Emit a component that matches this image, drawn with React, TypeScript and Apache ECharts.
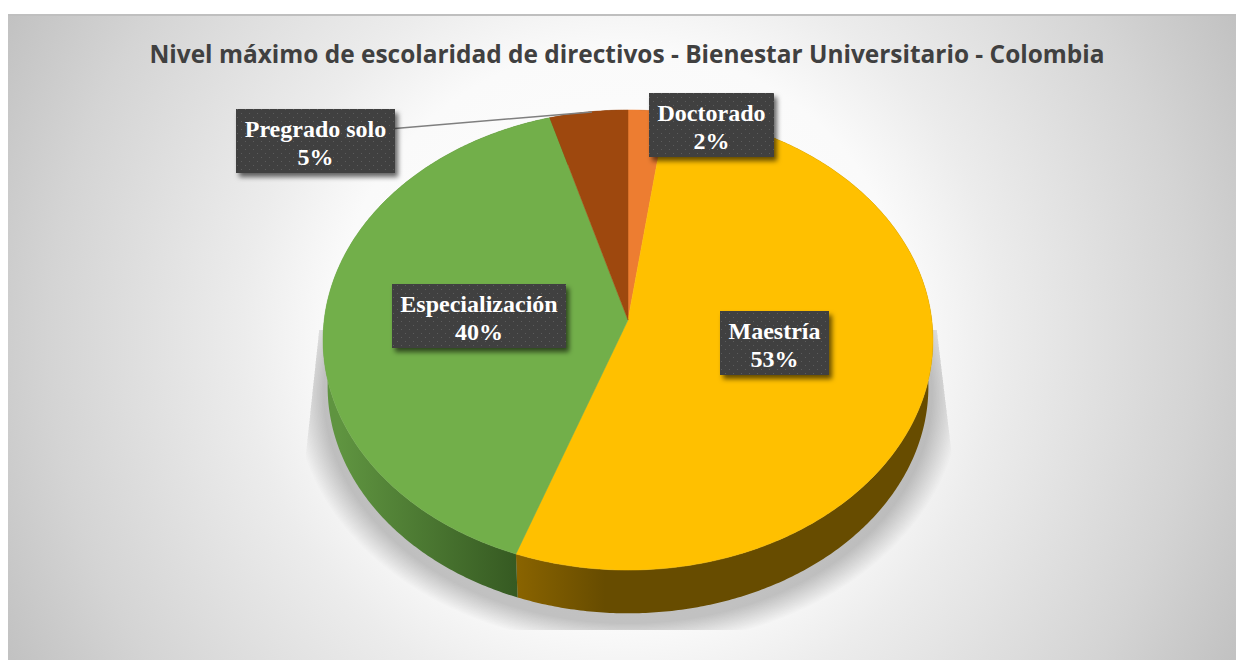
import React, { useEffect, useRef } from "react";
import * as echarts from "echarts";

const TITLE = "Nivel máximo de escolaridad de directivos - Bienestar Universitario - Colombia";
const categories = ["Doctorado", "Maestría", "Especialización", "Pregrado solo"];
const values = [2.2, 53.3, 40.0, 4.5];

const topColors = ["#ED7D31", "#FFC000", "#72AF4A", "#9E480E"];
const wallStops: [string, string][] = [
  ["#8E4A1A", "#8E4A1A"],
  ["#8A6400", "#674C00"],
  ["#5F9440", "#365A22"],
  ["#5E2B08", "#5E2B08"],
];
const wallSpan: [number, number][] = [[600, 700], [515, 605], [340, 516], [500, 600]];
const labelBoxes = [
  { x: 649, y: 93, w: 125, h: 64 },
  { x: 720, y: 311, w: 109, h: 64 },
  { x: 392, y: 284, w: 174, h: 64 },
  { x: 236, y: 109, w: 159, h: 64 },
];

const CX = 628, CY = 320, A = 303.8, B = 228.3, K = -0.087;
const DEPTH = 47, BOTTOM_SCALE = 0.985;
const total = values.reduce((s, v) => s + v, 0);

function rim(theta: number, scale = 1, dy = 0): number[] {
  const x = Math.sin(theta), y = -Math.cos(theta);
  const d = 1 + K * y;
  return [CX + (scale * A * x) / d, CY + dy + (scale * B * y) / d];
}
function arc(from: number, to: number, scale = 1, dy = 0): number[][] {
  const n = Math.max(2, Math.ceil((to - from) / 0.01));
  const pts: number[][] = [];
  for (let i = 0; i <= n; i++) pts.push(rim(from + ((to - from) * i) / n, scale, dy));
  return pts;
}
function sliceAngles(i: number): [number, number] {
  const before = values.slice(0, i).reduce((s, v) => s + v, 0);
  return [(before / total) * Math.PI * 2, ((before + values[i]) / total) * Math.PI * 2];
}
function dotTile() {
  const c = document.createElement("canvas");
  c.width = 8; c.height = 8;
  const g = c.getContext("2d")!;
  g.fillStyle = "#404040"; g.fillRect(0, 0, 8, 8);
  g.fillStyle = "#5c5c5c";
  g.fillRect(1, 1, 1, 1); g.fillRect(5, 5, 1, 1);
  return c;
}

export default function App() {
  const ref = useRef<HTMLDivElement>(null);
  useEffect(() => {
    document.body.style.margin = "0";
    const chart = echarts.init(ref.current!, undefined, { renderer: "svg" });
    const tile = dotTile();
    const data = categories.map((name, i) => ({ name, value: values[i] }));
    chart.setOption({
      animation: false,
      backgroundColor: "#ffffff",
      title: {
        text: TITLE,
        left: 622,
        top: 36,
        textAlign: "center",
        textStyle: { fontFamily: "Open Sans", fontSize: 24.45, fontWeight: 700, color: "#404040" },
      },
      graphic: [
        {
          type: "rect", z: -10,
          shape: { x: 8, y: 14, width: 1228, height: 646 },
          style: {
            fill: {
              type: "radial", x: 622, y: 337, r: 690, global: true,
              colorStops: [
                { offset: 0, color: "#ffffff" },
                { offset: 0.42, color: "#fafafa" },
                { offset: 0.55, color: "#ececec" },
                { offset: 0.83, color: "#d4d4d4" },
                { offset: 1, color: "#c2c2c2" },
              ],
            },
          },
        },
        { type: "rect", z: -9, shape: { x: 8, y: 14, width: 1228, height: 2 }, style: { fill: "#bfbfbf" } },
      ],
      series: [
        {
          type: "custom", coordinateSystem: "none", silent: true, z: 2,
          data: [{ name: "shadow", value: 1 }],
          renderItem: () => {
            const layers: any[] = [];
            for (let s = 1.09; s >= 1.0; s -= 0.005) {
              layers.push({
                type: "polygon",
                shape: { points: arc(0, Math.PI * 2, s, 54) },
                style: { fill: "rgba(0,0,0,0.0127)" },
              });
            }
            return {
              type: "group",
              children: layers,
              clipPath: {
                type: "polygon",
                shape: { points: [[319, 330], [937, 330], [955, 480], [955, 630], [303, 630], [303, 480]] },
              },
            };
          },
        },
        {
          type: "custom", coordinateSystem: "none", silent: true, z: 3, data,
          renderItem: (p: any) => {
            const i = p.dataIndex;
            const [a0, a1] = sliceAngles(i);
            const fill = {
              type: "linear", x: wallSpan[i][0], y: 0, x2: wallSpan[i][1], y2: 0, global: true,
              colorStops: [{ offset: 0, color: wallStops[i][0] }, { offset: 1, color: wallStops[i][1] }],
            };
            const pts = arc(a0, a1).concat(arc(a0, a1, BOTTOM_SCALE, DEPTH).reverse());
            return { type: "polygon", shape: { points: pts }, style: { fill, stroke: "none" } };
          },
        },
        {
          type: "custom", coordinateSystem: "none", silent: true, z: 4, data,
          renderItem: (p: any) => {
            const i = p.dataIndex;
            const [a0, a1] = sliceAngles(i);
            return {
              type: "polygon",
              shape: { points: [[CX, CY], ...arc(a0, a1)] },
              style: { fill: topColors[i], stroke: topColors[i], lineWidth: 0.5 },
            };
          },
        },
        {
          type: "custom", coordinateSystem: "none", silent: true, z: 5, data,
          renderItem: (p: any, api: any) => {
            const i = p.dataIndex;
            const box = labelBoxes[i];
            const pct = Math.round((api.value(0) / total) * 100);
            const children: any[] = [];
            if (i === 3) {
              children.push({
                type: "line",
                shape: { x1: box.x + box.w, y1: 128.5, x2: 592, y2: 112 },
                style: { stroke: "#7f7f7f", lineWidth: 1.5 },
              });
            }
            children.push({
              type: "rect",
              shape: { x: box.x, y: box.y, width: box.w, height: box.h },
              style: {
                fill: { image: tile, repeat: "repeat", imageWidth: 8, imageHeight: 8 },
                shadowColor: "rgba(0,0,0,0.6)", shadowBlur: 5, shadowOffsetX: 3, shadowOffsetY: 4,
              },
            });
            children.push({
              type: "text",
              x: box.x + box.w / 2,
              y: box.y + box.h / 2 + 1.5,
              style: {
                text: `${categories[i]}\n${pct}%`,
                fill: "#ffffff",
                font: "bold 24px 'Liberation Serif'",
                lineHeight: 28,
                align: "center",
                verticalAlign: "middle",
              },
            });
            return { type: "group", children };
          },
        },
      ],
    });
    return () => chart.dispose();
  }, []);
  return <div ref={ref} style={{ position: "absolute", left: 0, top: 0, width: 1236, height: 660 }} />;
}
